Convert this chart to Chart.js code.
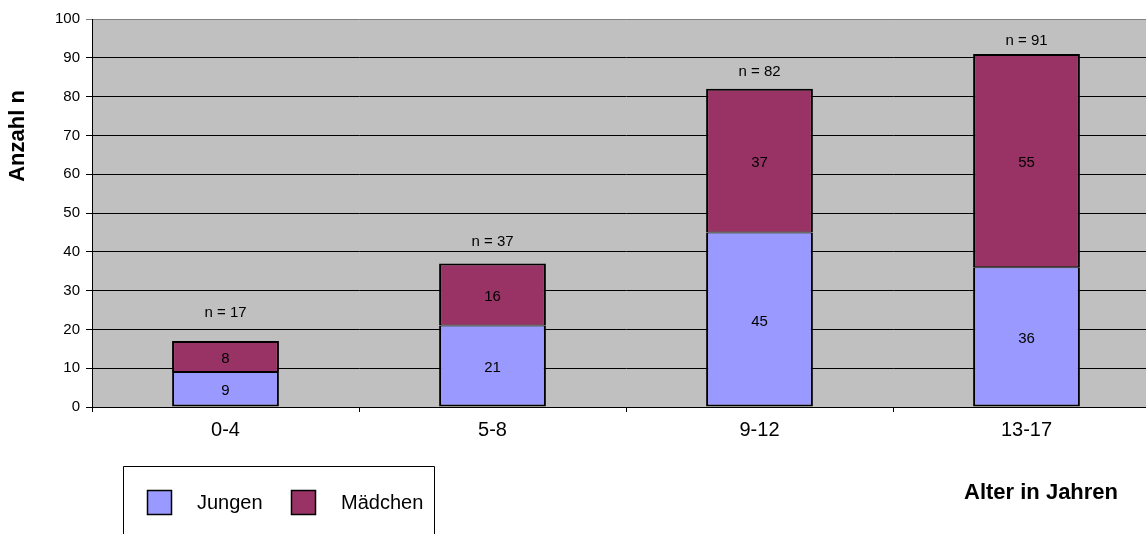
<!DOCTYPE html>
<html lang="de">
<head>
<meta charset="utf-8">
<title>Anzahl nach Altersgruppe</title>
<script src="https://cdn.jsdelivr.net/npm/chart.js@4.4.1/dist/chart.umd.min.js"></script>
<style>
  html, body { margin: 0; padding: 0; overflow: hidden; background: #ffffff; }
  #wrap { position: relative; width: 1162px; height: 534px; }
</style>
</head>
<body>
<div id="wrap"><canvas id="chart"></canvas></div>
<script>
// Altersgruppen und Anzahl je Geschlecht
const ageGroups = ['0-4', '5-8', '9-12', '13-17'];
const boys  = [9, 21, 45, 36];
const girls = [8, 16, 37, 55];

// Abstand (px) der "n = ..."-Beschriftung über der Säule
const totalLabelLift = [28, 22, 17, 13];

const FONT = '"Liberation Sans", Arial, Helvetica, sans-serif';

// grauer Hintergrund der Zeichenfläche
const plotBackground = {
  id: 'plotBackground',
  beforeDraw(chart) {
    const { ctx, chartArea: a } = chart;
    ctx.save();
    ctx.fillStyle = '#c0c0c0';
    ctx.fillRect(a.left, a.top, a.right - a.left, a.bottom - a.top);
    ctx.restore();
  }
};

// Werte in den Segmenten und Summen über den Säulen
const barLabels = {
  id: 'barLabels',
  afterDatasetsDraw(chart) {
    const { ctx } = chart;
    ctx.save();
    ctx.fillStyle = '#000';
    ctx.textAlign = 'center';
    ctx.textBaseline = 'middle';
    ctx.font = '15px ' + FONT;
    chart.data.datasets.forEach((ds, di) => {
      chart.getDatasetMeta(di).data.forEach((bar, i) => {
        ctx.fillText(String(ds.data[i]), bar.x, (bar.y + bar.base) / 2 + 2);
      });
    });
    const top = chart.getDatasetMeta(chart.data.datasets.length - 1).data;
    top.forEach((bar, i) => {
      const total = chart.data.datasets.reduce((s, ds) => s + ds.data[i], 0);
      ctx.fillText('n = ' + total, bar.x, bar.y - totalLabelLift[i]);
    });
    ctx.restore();
  }
};

// Achsentitel und Legende
const annotations = {
  id: 'annotations',
  afterDraw(chart) {
    const { ctx } = chart;
    ctx.save();
    ctx.fillStyle = '#000';

    // y-Achsentitel
    ctx.font = 'bold 22px ' + FONT;
    ctx.textAlign = 'center';
    ctx.textBaseline = 'middle';
    ctx.translate(18, 136);
    ctx.rotate(-Math.PI / 2);
    ctx.fillText('Anzahl n', 0, 0);
    ctx.setTransform(1, 0, 0, 1, 0, 0);

    // x-Achsentitel
    ctx.textAlign = 'left';
    ctx.fillText('Alter in Jahren', 964, 493);

    // Legende
    ctx.strokeStyle = '#000';
    ctx.lineWidth = 1;
    ctx.beginPath();
    ctx.moveTo(123.5, 540);
    ctx.lineTo(123.5, 466.5);
    ctx.lineTo(434.5, 466.5);
    ctx.lineTo(434.5, 540);
    ctx.stroke();

    const items = [
      { x: 147, tx: 197 },
      { x: 291, tx: 341 }
    ];
    ctx.font = '20px ' + FONT;
    ctx.textBaseline = 'middle';
    chart.data.datasets.forEach((ds, i) => {
      const it = items[i];
      ctx.fillStyle = ds.backgroundColor;
      ctx.fillRect(it.x, 490, 25, 25);
      ctx.strokeStyle = '#000';
      ctx.lineWidth = 1.5;
      ctx.strokeRect(it.x + 0.5, 490.5, 24, 24);
      ctx.fillStyle = '#000';
      ctx.fillText(ds.label, it.tx, 503);
    });
    ctx.restore();
  }
};

new Chart(document.getElementById('chart'), {
  type: 'bar',
  data: {
    labels: ageGroups,
    datasets: [
      {
        label: 'Jungen',
        data: boys,
        backgroundColor: '#9999ff',
        borderColor: '#000',
        borderWidth: { left: 2, right: 2, bottom: 2, top: 1 },
        borderSkipped: false
      },
      {
        label: 'Mädchen',
        data: girls,
        backgroundColor: '#993366',
        borderColor: '#000',
        borderWidth: { left: 2, right: 2, bottom: 1, top: 2 },
        borderSkipped: false
      }
    ]
  },
  options: {
    responsive: true,
    maintainAspectRatio: false,
    animation: false,
    devicePixelRatio: 1,
    layout: { padding: { left: 0, top: 19, right: 2, bottom: 0 } },
    datasets: { bar: { barPercentage: 0.4, categoryPercentage: 1 } },
    plugins: {
      legend: { display: false },
      tooltip: { enabled: false },
      title: { display: false }
    },
    scales: {
      x: {
        stacked: true,
        offset: true,
        grid: {
          offset: true,
          drawOnChartArea: false,
          drawTicks: true,
          tickLength: 5,
          color: '#000'
        },
        border: { display: true, color: '#000', width: 1 },
        ticks: {
          color: '#000',
          padding: 6,
          font: { family: FONT, size: 20 }
        },
        afterFit(axis) { axis.height = 127; }
      },
      y: {
        stacked: true,
        min: 0,
        max: 100,
        ticks: {
          stepSize: 10,
          color: '#000',
          padding: 6,
          font: { family: FONT, size: 15 }
        },
        grid: {
          color: (c) => (c.tick && c.tick.value === 100 ? '#808080' : '#000'),
          lineWidth: 1,
          drawTicks: true,
          tickLength: 6
        },
        border: { display: true, color: '#000', width: 1 },
        afterFit(axis) { axis.width = 92; }
      }
    }
  },
  plugins: [plotBackground, barLabels, annotations]
});
</script>
</body>
</html>
